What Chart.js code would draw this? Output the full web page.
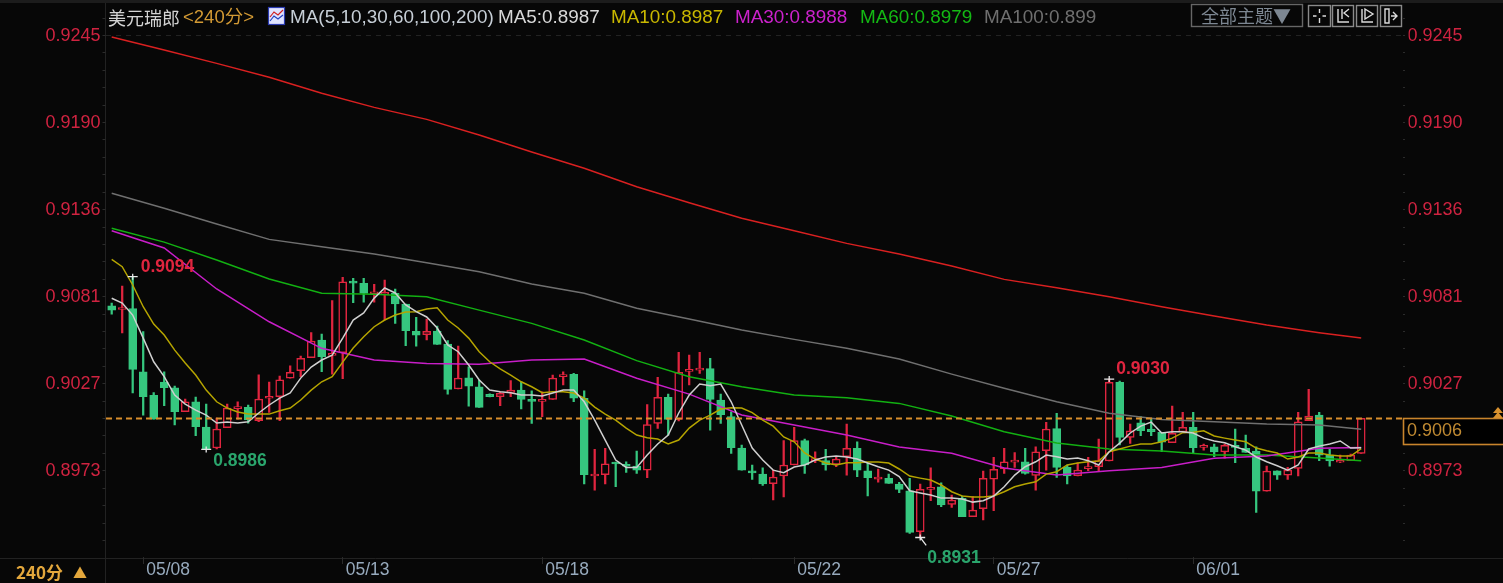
<!DOCTYPE html>
<html><head><meta charset="utf-8">
<style>html,body{margin:0;padding:0;background:#070707;overflow:hidden}canvas{display:block}</style>
<script src="https://cdn.jsdelivr.net/npm/chart.js@4"></script></head>
<body><canvas id="c" width="1503" height="583"></canvas>
<script>
const openP=[0.90758,0.90735,0.90740,0.90346,0.90198,0.90281,0.90246,0.90096,0.90158,0.90000,0.89869,0.89996,0.90115,0.90123,0.90040,0.90180,0.90190,0.90305,0.90352,0.90433,
0.90544,0.90448,0.90465,0.90908,0.90898,0.90833,0.90827,0.90836,0.90769,0.90598,0.90577,0.90600,0.90519,0.90238,0.90308,0.90252,0.90205,0.90190,0.90217,0.90231,
0.90169,0.90161,0.90173,0.90315,0.90330,0.90180,0.89694,0.89702,0.89777,0.89761,0.89756,0.89731,0.90023,0.90186,0.90048,0.90348,0.90356,0.90365,0.90169,0.90065,
0.89869,0.89727,0.89706,0.89646,0.89694,0.89763,0.89915,0.89790,0.89790,0.89767,0.89815,0.89867,0.89727,0.89675,0.89680,0.89644,0.89602,0.89346,0.89611,0.89627,
0.89517,0.89555,0.89440,0.89490,0.89675,0.89738,0.89780,0.89783,0.89698,0.89852,0.89990,0.89748,0.89696,0.89740,0.89752,0.89788,0.90280,0.89936,0.90027,0.89988,
0.89967,0.89902,0.89969,0.89998,0.89873,0.89877,0.89844,0.89877,0.89867,0.89850,0.89600,0.89727,0.89700,0.89742,0.90040,0.90075,0.89825,0.89780,0.89790,0.89836];
const highP=[0.90775,0.90881,0.90940,0.90596,0.90215,0.90346,0.90256,0.90175,0.90188,0.90144,0.90056,0.90144,0.90158,0.90138,0.90327,0.90281,0.90319,0.90383,0.90444,0.90590,
0.90581,0.90790,0.90936,0.90930,0.90930,0.90892,0.90919,0.90863,0.90769,0.90686,0.90675,0.90631,0.90540,0.90506,0.90377,0.90294,0.90207,0.90219,0.90290,0.90283,
0.90227,0.90221,0.90325,0.90346,0.90336,0.90227,0.89861,0.89867,0.89781,0.89783,0.89850,0.90140,0.90311,0.90206,0.90467,0.90450,0.90467,0.90430,0.90206,0.90096,
0.89888,0.89763,0.89746,0.89731,0.89915,0.89998,0.89925,0.89846,0.89861,0.89815,0.90019,0.89908,0.89773,0.89738,0.89706,0.89655,0.89680,0.89644,0.89746,0.89652,
0.89575,0.89569,0.89565,0.89725,0.89811,0.89867,0.89840,0.89867,0.89877,0.90030,0.90086,0.89763,0.89777,0.89811,0.89925,0.90300,0.90288,0.90019,0.90065,0.90048,
0.89967,0.90131,0.90092,0.90092,0.89894,0.89894,0.89894,0.89988,0.89950,0.89877,0.89756,0.89727,0.89748,0.90092,0.90236,0.90092,0.89861,0.89825,0.89831,0.90055];
const lowP=[0.90706,0.90588,0.90213,0.90075,0.90050,0.90133,0.90013,0.90096,0.89946,0.89860,0.89863,0.89996,0.90050,0.90025,0.90033,0.90092,0.90040,0.90305,0.90315,0.90433,
0.90346,0.90331,0.90302,0.90777,0.90780,0.90780,0.90669,0.90648,0.90508,0.90506,0.90544,0.90517,0.90206,0.90238,0.90131,0.90123,0.90188,0.90133,0.90190,0.90113,
0.90023,0.90065,0.90173,0.90263,0.90158,0.89644,0.89606,0.89644,0.89627,0.89717,0.89711,0.89683,0.89992,0.89950,0.90038,0.90263,0.90336,0.89981,0.90023,0.89836,
0.89731,0.89673,0.89636,0.89544,0.89563,0.89763,0.89711,0.89777,0.89731,0.89752,0.89700,0.89690,0.89569,0.89655,0.89648,0.89590,0.89336,0.89310,0.89540,0.89502,
0.89498,0.89440,0.89440,0.89419,0.89477,0.89711,0.89748,0.89706,0.89606,0.89731,0.89686,0.89644,0.89694,0.89727,0.89721,0.89788,0.89888,0.89898,0.89946,0.89946,
0.89846,0.89902,0.89969,0.89840,0.89856,0.89815,0.89805,0.89777,0.89842,0.89467,0.89600,0.89673,0.89673,0.89694,0.90040,0.89790,0.89756,0.89777,0.89790,0.89836];
const closeP=[0.90731,0.90741,0.90361,0.90190,0.90050,0.90246,0.90096,0.90158,0.90002,0.89860,0.89988,0.90119,0.90127,0.90044,0.90175,0.90188,0.90296,0.90342,0.90430,0.90538,
0.90440,0.90461,0.90908,0.90900,0.90836,0.90840,0.90842,0.90769,0.90602,0.90575,0.90598,0.90517,0.90236,0.90306,0.90256,0.90123,0.90190,0.90211,0.90231,0.90173,
0.90161,0.90169,0.90306,0.90327,0.90180,0.89702,0.89706,0.89771,0.89769,0.89755,0.89731,0.90015,0.90186,0.90048,0.90342,0.90356,0.90365,0.90173,0.90077,0.89871,
0.89731,0.89713,0.89644,0.89688,0.89763,0.89915,0.89763,0.89798,0.89763,0.89800,0.89867,0.89731,0.89683,0.89688,0.89648,0.89611,0.89342,0.89611,0.89623,0.89513,
0.89544,0.89440,0.89481,0.89680,0.89736,0.89783,0.89794,0.89711,0.89846,0.89988,0.89748,0.89694,0.89731,0.89748,0.89790,0.90280,0.89936,0.89977,0.89977,0.89971,
0.89905,0.89961,0.89998,0.89871,0.89877,0.89844,0.89886,0.89873,0.89842,0.89600,0.89725,0.89700,0.89731,0.90033,0.90069,0.89825,0.89788,0.89790,0.89825,0.90055];
const ma5=[0.90805,0.90775,0.90700,0.90556,0.90408,0.90315,0.90200,0.90144,0.90106,0.90075,0.90025,0.90031,0.90025,0.90033,0.90088,0.90138,0.90181,0.90213,0.90306,0.90375,
0.90419,0.90450,0.90556,0.90669,0.90713,0.90806,0.90869,0.90838,0.90763,0.90721,0.90688,0.90619,0.90513,0.90471,0.90388,0.90294,0.90231,0.90221,0.90215,0.90200,
0.90200,0.90194,0.90213,0.90231,0.90231,0.90158,0.90044,0.89919,0.89794,0.89748,0.89748,0.89825,0.89894,0.89950,0.90088,0.90200,0.90269,0.90258,0.90269,0.90158,
0.90013,0.89869,0.89794,0.89731,0.89715,0.89750,0.89763,0.89794,0.89813,0.89819,0.89813,0.89800,0.89775,0.89752,0.89731,0.89690,0.89602,0.89588,0.89575,0.89556,
0.89556,0.89550,0.89531,0.89540,0.89569,0.89627,0.89700,0.89752,0.89783,0.89825,0.89815,0.89800,0.89806,0.89790,0.89763,0.89846,0.89900,0.89963,0.90006,0.90031,
0.89963,0.89971,0.89971,0.89963,0.89931,0.89913,0.89902,0.89877,0.89856,0.89813,0.89783,0.89758,0.89731,0.89763,0.89863,0.89881,0.89894,0.89913,0.89869,0.89870];
const ma10=[0.91048,0.91002,0.90888,0.90752,0.90644,0.90575,0.90481,0.90400,0.90325,0.90231,0.90158,0.90119,0.90094,0.90081,0.90081,0.90081,0.90102,0.90119,0.90169,0.90231,
0.90283,0.90315,0.90406,0.90494,0.90565,0.90627,0.90669,0.90700,0.90719,0.90721,0.90738,0.90746,0.90669,0.90619,0.90556,0.90471,0.90408,0.90363,0.90325,0.90283,
0.90252,0.90215,0.90221,0.90221,0.90213,0.90181,0.90125,0.90081,0.90044,0.89994,0.89950,0.89933,0.89925,0.89894,0.89919,0.89994,0.90044,0.90075,0.90113,0.90121,
0.90119,0.90090,0.90044,0.90006,0.89938,0.89908,0.89838,0.89800,0.89775,0.89763,0.89777,0.89777,0.89781,0.89781,0.89775,0.89738,0.89694,0.89681,0.89669,0.89638,
0.89596,0.89569,0.89563,0.89563,0.89569,0.89596,0.89627,0.89644,0.89658,0.89706,0.89721,0.89763,0.89775,0.89783,0.89788,0.89846,0.89863,0.89881,0.89894,0.89894,
0.89908,0.89931,0.89965,0.89967,0.89977,0.89944,0.89931,0.89919,0.89908,0.89869,0.89852,0.89838,0.89800,0.89813,0.89838,0.89838,0.89825,0.89819,0.89819,0.89865];
const slowIdx=[0,5,10,15,20,25,30,35,40,45,50,55,60,65,70,75,80,85,90,95,100,105,110,115,119];
const ma30=[0.91227,0.91119,0.90863,0.90658,0.90492,0.90419,0.90398,0.90392,0.90419,0.90425,0.90305,0.90206,0.90075,0.90013,0.89950,0.89875,0.89836,0.89744,0.89700,0.89727,0.89748,0.89805,0.89819,0.89867,0.89873];
const ma60=[0.91242,0.91156,0.91044,0.90925,0.90836,0.90830,0.90815,0.90731,0.90648,0.90544,0.90415,0.90315,0.90252,0.90200,0.90183,0.90148,0.90069,0.89971,0.89900,0.89863,0.89850,0.89825,0.89825,0.89806,0.89790];
const ma100=[0.91461,0.91367,0.91269,0.91173,0.91127,0.91081,0.91027,0.90971,0.90894,0.90836,0.90742,0.90675,0.90606,0.90548,0.90492,0.90425,0.90331,0.90242,0.90158,0.90086,0.90048,0.90033,0.90019,0.90013,0.89986];
const ma200=[0.92438,0.92356,0.92273,0.92186,0.92086,0.91998,0.91923,0.91825,0.91719,0.91617,0.91502,0.91402,0.91305,0.91227,0.91148,0.91081,0.91006,0.90923,0.90871,0.90815,0.90752,0.90694,0.90638,0.90590,0.90556];
const xTickIdx=[3,22,41,65,84,103];
const xTickText=["05/08","05/13","05/18","05/22","05/27","06/01"];
const yTickValues=[0.92450,0.91906,0.91363,0.90819,0.90275,0.89731];
const yTickText=["0.9245","0.9190","0.9136","0.9081","0.9027","0.8973"];
const lastPrice=0.90053;
const lastPriceText="0.9006";
const marks=[{i:2,v:0.90940,t:"0.9094",hi:true},{i:9,v:0.89860,t:"0.8986",hi:false},{i:95,v:0.90300,t:"0.9030",hi:true},{i:77,v:0.89310,t:"0.8931",hi:false}];
const legendItems=[["MA5:0.8987","#d8d8d8",498],["MA10:0.8987","#c9b800",611],["MA30:0.8988","#cc22cc",735],["MA60:0.8979","#14b814",860],["MA100:0.899","#6f6f6f",984]];

const UP="#e0253f",DOWN="#36c77f",BG="#070707";
const FONT='"Liberation Sans","Noto Sans CJK SC",sans-serif';
const CJK='"Noto Sans CJK SC","Liberation Sans",sans-serif';
const labels=[];
for(let i=0;i<124;i++){const k=xTickIdx.indexOf(i);labels.push(k>=0?xTickText[k]:"");}
const isUp=closeP.map((c,i)=>c>=openP[i]);
const colors=isUp.map(u=>u?UP:DOWN);
const fills=isUp.map(u=>u?BG:DOWN);
function spread(idx,vals){const a=new Array(120).fill(null);idx.forEach((p,k)=>a[p]=vals[k]);return a;}
function line(label,data,color,order,w){return{type:"line",label,data,borderColor:color,backgroundColor:color,borderWidth:w||1.5,pointRadius:0,tension:0,spanGaps:true,order,yAxisID:"y"};}

function txt(ctx,s,x,y,color,font,align){ctx.fillStyle=color;ctx.font=font;ctx.textAlign=align||"left";ctx.textBaseline="middle";ctx.fillText(s,x,y);}

const decor={id:"decor",
 beforeDraw(chart){const c=chart.ctx;c.save();c.fillStyle=BG;c.fillRect(0,0,1503,583);c.fillStyle="#1c1c1c";c.fillRect(0,0,1503,3);
  c.strokeStyle="#222";c.lineWidth=1;c.beginPath();c.moveTo(105.5,3);c.lineTo(105.5,583);c.moveTo(0,558.5);c.lineTo(1503,558.5);c.stroke();
  const y=chart.scales.y,step=(yTickValues[0]-yTickValues[1])/5;
  c.strokeStyle="#2b2b2b";c.beginPath();
  for(let k=-1;k<32;k++){const p=y.getPixelForValue(yTickValues[0]-k*step);if(p<14||p>548)continue;c.moveTo(102.5,Math.round(p)+.5);c.lineTo(105.5,Math.round(p)+.5);c.moveTo(1403,Math.round(p)+.5);c.lineTo(1405,Math.round(p)+.5);}
  c.stroke();
  c.strokeStyle="#222";c.setLineDash([5,5]);c.beginPath();const t=Math.round(y.getPixelForValue(yTickValues[0]))+.5;c.moveTo(106,t);c.lineTo(1403,t);c.stroke();
  c.restore();},
 afterDatasetsDraw(chart){const c=chart.ctx,x=chart.scales.x,y=chart.scales.y;c.save();
  const ly=y.getPixelForValue(lastPrice);
  c.strokeStyle="#d88e2c";c.lineWidth=2;c.setLineDash([6,4]);c.beginPath();c.moveTo(106,ly);c.lineTo(1403,ly);c.stroke();c.setLineDash([]);
  marks.forEach(m=>{const px=x.getPixelForValue(m.i),py=y.getPixelForValue(m.v);
   c.strokeStyle="#e8e8e8";c.lineWidth=1.3;c.beginPath();c.moveTo(px-5,py);c.lineTo(px+5,py);c.moveTo(px,py-3);c.lineTo(px,py+3);
   if(m.t==="0.8931"){c.moveTo(px,py);c.lineTo(px+6,py+8);}
   c.stroke();
   const col=m.hi?"#e0253f":"#2aa56c";
   const dx={ "0.9094":8,"0.8986":7,"0.9030":7,"0.8931":7 }[m.t],dy={ "0.9094":-9,"0.8986":12,"0.9030":-10,"0.8931":21 }[m.t];
   txt(c,m.t,px+dx,py+dy,col,"bold 17.5px "+FONT);});
  txt(c,"美元瑞郎",108,18,"#d4d4d4","18px "+CJK);
  txt(c,"<240分>",183,18,"#d39a34","18.5px "+FONT);
  c.fillStyle="#dfe3ff";c.fillRect(268,7,16,17);c.strokeStyle="#2a3ab0";c.lineWidth=1.2;c.strokeRect(268.5,7.5,16,17);
  c.strokeStyle="#d02020";c.beginPath();c.moveTo(270,17);c.lineTo(274,12);c.lineTo(278,15);c.lineTo(283,10);c.stroke();
  c.strokeStyle="#2040c0";c.beginPath();c.moveTo(270,21);c.lineTo(274,16);c.lineTo(278,19);c.lineTo(283,15);c.stroke();
  txt(c,"MA(5,10,30,60,100,200)",290,18,"#c6ced6","18.9px "+FONT);
  legendItems.forEach(l=>txt(c,l[0],l[2],18,l[1],"18.9px "+FONT));
  c.strokeStyle="#666";c.lineWidth=1.4;c.strokeRect(1191.5,4.5,111,22);
  txt(c,"全部主题▼",1201,16,"#7d8792","18px "+CJK);
  [[1308,22],[1332,21],[1356,21],[1380,21]].forEach((b,k)=>{c.strokeStyle="#8a8a8a";c.lineWidth=1.4;c.strokeRect(b[0]+.5,5.5,b[1],21);
   c.strokeStyle="#dcdcdc";c.beginPath();const l=b[0]+5,r=b[0]+b[1]-4,m=(l+r)/2;
   if(k===0){c.moveTo(m,9);c.lineTo(m,13);c.moveTo(m,18);c.lineTo(m,23);c.moveTo(l,16);c.lineTo(m-3,16);c.moveTo(m+3,16);c.lineTo(r,16);}
   else if(k===1){c.moveTo(l+1,9);c.lineTo(l+1,22);c.lineTo(r,22);c.moveTo(r,9);c.lineTo(r-5,13);c.lineTo(r,17);c.moveTo(m-1,9);c.lineTo(m-1,19);}
   else if(k===2){c.moveTo(l+1,9);c.lineTo(l+1,22);c.lineTo(r,22);c.moveTo(m-2,9);c.lineTo(r,14);c.lineTo(m-2,19);c.closePath();}
   else{c.moveTo(l,9);c.lineTo(l,23);c.lineTo(l+4,23);c.lineTo(l+4,9);c.closePath();c.moveTo(l+6,16);c.lineTo(r,16);c.moveTo(r-4,12);c.lineTo(r,16);c.lineTo(r-4,20);}
   c.stroke();});
  c.fillStyle="#000";c.fillRect(1403,418,100,27);c.strokeStyle="#c8842c";c.lineWidth=1.6;c.strokeRect(1403.5,418.5,101,26);
  txt(c,lastPriceText,1407,431,"#c08a32","18px "+FONT);
  c.fillStyle="#d8912f";[[407,413],[412,418]].forEach(t=>{c.beginPath();c.moveTo(1498,t[0]);c.lineTo(1503,t[1]);c.lineTo(1493,t[1]);c.closePath();c.fill();});
  txt(c,"240分",16,573,"#e3a73c","bold 17px "+CJK);
  txt(c,"▲",73,573,"#e3a73c","14px "+CJK);
  c.restore();}
};

new Chart(document.getElementById("c"),{
 data:{labels,datasets:[
  {type:"bar",label:"wick",data:highP.map((h,i)=>[lowP[i],h]),backgroundColor:colors,borderWidth:0,barThickness:1.6,grouped:false,order:20,yAxisID:"y"},
  {type:"bar",label:"body",data:closeP.map((c,i)=>[Math.min(c,openP[i]),Math.max(c,openP[i])]),backgroundColor:fills,borderColor:colors,borderWidth:1.5,borderSkipped:false,barThickness:8,grouped:false,order:19,minBarLength:2,yAxisID:"y"},
  line("MA200",spread(slowIdx,ma200),"#d92020",6),
  line("MA100",spread(slowIdx,ma100),"#6f6f6f",5),
  line("MA60",spread(slowIdx,ma60),"#12b012",4),
  line("MA30",spread(slowIdx,ma30),"#c81ec8",3),
  line("MA10",ma10,"#b5a400",2),
  line("MA5",ma5,"#cfcfcf",1)
 ]},
 options:{responsive:false,animation:false,devicePixelRatio:1,
  layout:{padding:{top:12,left:0,right:0,bottom:0}},
  plugins:{legend:{display:false},tooltip:{enabled:false},title:{display:false}},
  scales:{
   x:{type:"category",offset:true,border:{display:false},
    grid:{offset:false,drawOnChartArea:false,drawTicks:true,tickLength:7,color:"#2a2a2a"},
    afterBuildTicks(s){s.ticks=xTickIdx.map(v=>({value:v}));},
    afterFit(s){s.height=26;},
    ticks:{autoSkip:false,maxRotation:0,align:"start",labelOffset:3,padding:-4,color:"#97aabd",font:{family:FONT,size:17.5},
     callback(v){return xTickText[xTickIdx.indexOf(v)];}}},
   y:{position:"left",min:0.89188,max:0.92594,border:{display:false},grid:{display:false,tickLength:0},
    afterBuildTicks(s){s.ticks=yTickValues.map(v=>({value:v}));},
    afterFit(s){s.width=106.45;s.paddingTop=0;s.paddingBottom=0;},
    ticks:{autoSkip:false,padding:6,labelOffset:1,color:"#cf2340",font:{family:FONT,size:18},callback(v){return yTickText[yTickValues.indexOf(v)];}}},
   y2:{position:"right",min:0.89188,max:0.92594,border:{display:false},grid:{display:false,tickLength:0},
    afterBuildTicks(s){s.ticks=yTickValues.map(v=>({value:v}));},
    afterFit(s){s.width=94.55;s.paddingTop=0;s.paddingBottom=0;},
    ticks:{autoSkip:false,padding:-1,labelOffset:1,color:"#cf2340",font:{family:FONT,size:18},callback(v){return yTickText[yTickValues.indexOf(v)];}}}
  }},
 plugins:[decor]
});
</script></body></html>
